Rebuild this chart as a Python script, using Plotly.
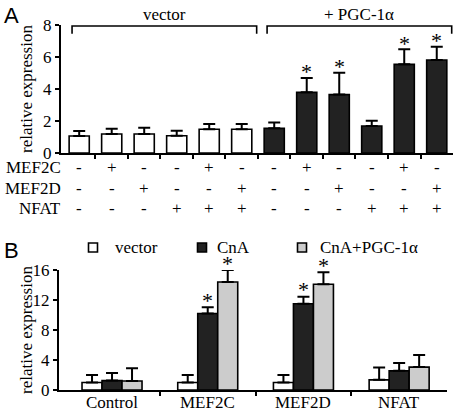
import plotly.graph_objects as go

# ---------------- Panel A data ----------------
a_vector = [1.06, 1.19, 1.19, 1.08, 1.48, 1.48]
a_vector_err = [0.31, 0.33, 0.39, 0.31, 0.33, 0.33]
a_pgc = [1.54, 3.79, 3.65, 1.69, 5.54, 5.81]
a_pgc_err = [0.36, 0.90, 1.37, 0.33, 0.94, 0.83]
a_pgc_sig = [False, True, True, False, True, True]
row_labels = ["MEF2C", "MEF2D", "NFAT"]
mef2c = ["-", "+", "-", "-", "+", "-", "-", "+", "-", "-", "+", "-"]
mef2d = ["-", "-", "+", "-", "-", "+", "-", "-", "+", "-", "-", "+"]
nfat = ["-", "-", "-", "+", "+", "+", "-", "-", "-", "+", "+", "+"]
a_groups = ["vector", "+ PGC-1α"]
a_yticks = [0, 2, 4, 6, 8]

# ---------------- Panel B data ----------------
b_categories = ["Control", "MEF2C", "MEF2D", "NFAT"]
b_series = ["vector", "CnA", "CnA+PGC-1α"]
b_vector = [1.0, 1.0, 1.0, 1.35]
b_vector_err = [1.0, 1.0, 1.0, 1.65]
b_cna = [1.25, 10.2, 11.5, 2.55]
b_cna_err = [1.0, 0.85, 0.95, 1.05]
b_pgc = [1.2, 14.4, 14.1, 3.05]
b_pgc_err = [1.7, 1.6, 1.6, 1.6]
b_cna_sig = [False, True, True, False]
b_pgc_sig = [False, True, True, False]
b_yticks = [0, 4, 8, 12, 16]

W, H = 454, 411
SERIF = "Liberation Serif, Times New Roman, serif"
SANS = "Liberation Sans, Arial, sans-serif"
BLACK = "#222222"
GRAY = "#cccccc"
FS = 17


def px(x):
    return x / W


def py(y):
    return 1 - y / H


fig = go.Figure()
ann = []
shapes = []

# ---------- Panel A bars ----------
xa_vec = list(range(len(a_vector)))
xa_pgc = list(range(len(a_vector), len(a_vector) + len(a_pgc)))


def err(arr):
    return dict(type="data", symmetric=False, array=arr, arrayminus=[0] * len(arr),
                color="black", thickness=2, width=6)


def star(x, y, xref, yref, shift):
    return dict(text="*", x=x, y=y, xref=xref, yref=yref, xanchor="center",
                yanchor="middle", yshift=shift, showarrow=False,
                font=dict(family=SERIF, size=22, color="black"))


fig.add_trace(go.Bar(x=xa_vec, y=a_vector, width=0.62, error_y=err(a_vector_err),
                     marker=dict(color="white", line=dict(color="black", width=1.6)),
                     xaxis="x", yaxis="y", showlegend=False))
fig.add_trace(go.Bar(x=xa_pgc, y=a_pgc, width=0.62, error_y=err(a_pgc_err),
                     marker=dict(color=BLACK, line=dict(color="black", width=1.6)),
                     xaxis="x", yaxis="y", showlegend=False))
for x, v, e, s in zip(xa_pgc, a_pgc, a_pgc_err, a_pgc_sig):
    if s:
        ann.append(star(x, v + e, "x", "y", 6))

# ---------- Panel B bars ----------
b_vals = [b_vector, b_cna, b_pgc]
b_errs = [b_vector_err, b_cna_err, b_pgc_err]
b_cols = ["white", BLACK, GRAY]
for name, vals, errs, col in zip(b_series, b_vals, b_errs, b_cols):
    fig.add_trace(go.Bar(x=list(range(len(b_categories))), y=vals, name=name,
                         error_y=err(errs),
                         marker=dict(color=col, line=dict(color="black", width=1.6)),
                         xaxis="x2", yaxis="y2", showlegend=False))

# asterisks for panel B (offset to the bar position within group)
bw = (1 - 0.373) / 3
for k, (vals, errs, sig) in enumerate([(b_cna, b_cna_err, b_cna_sig), (b_pgc, b_pgc_err, b_pgc_sig)]):
    for i, (v, e, s) in enumerate(zip(vals, errs, sig)):
        if s:
            ann.append(star(i + k * bw, v + e, "x2", "y2", 7))

# Panel A row labels and +/- signs
row_y = [168, 188, 208]
for lab, signs, yy in zip(row_labels, [mef2c, mef2d, nfat], row_y):
    ann.append(dict(text=lab, x=px(63), y=py(yy), xref="paper", yref="paper",
                    xanchor="right", yanchor="middle", showarrow=False,
                    font=dict(family=SERIF, size=FS, color="black")))
    for i, s in enumerate(signs):
        ann.append(dict(text=s, x=i, y=py(yy), xref="x", yref="paper",
                        xanchor="center", yanchor="middle", showarrow=False,
                        font=dict(family=SERIF, size=FS, color="black")))

# Brackets for groups
groups_idx = [xa_vec, xa_pgc]
for lab, idx in zip(a_groups, groups_idx):
    x0 = idx[0] - 0.22
    x1 = idx[-1] + 0.46
    shapes.append(dict(type="path", xref="x", yref="y",
                       path=f"M {x0},7.45 L {x0},7.94 L {x1},7.94 L {x1},7.45",
                       line=dict(color="black", width=1.6)))
    ann.append(dict(text=lab, x=(x0 + x1) / 2, y=py(15), xref="x", yref="paper",
                    xanchor="center", yanchor="middle", showarrow=False,
                    font=dict(family=SERIF, size=FS, color="black")))

# Panel letters
ann.append(dict(text="A", x=px(2), y=py(16), xref="paper", yref="paper", xanchor="left",
                yanchor="middle", showarrow=False, font=dict(family=SANS, size=22, color="black")))
ann.append(dict(text="B", x=px(2), y=py(250), xref="paper", yref="paper", xanchor="left",
                yanchor="middle", showarrow=False, font=dict(family=SANS, size=22, color="black")))

# y-axis titles
for yy in [89, 330]:
    ann.append(dict(text="relative expression", x=px(26), y=py(yy), xref="paper", yref="paper",
                    xanchor="center", yanchor="middle", textangle=-90, showarrow=False,
                    font=dict(family=SERIF, size=FS, color="black")))

# Legend for panel B
leg_sq = [93, 202, 302]
leg_tx = [113, 215, 318]
for name, col, sxp, txp in zip(b_series, b_cols, leg_sq, leg_tx):
    shapes.append(dict(type="rect", xref="paper", yref="paper",
                       x0=px(sxp - 4.5), x1=px(sxp + 4.5), y0=py(252), y1=py(243),
                       fillcolor=col, line=dict(color="black", width=1.6)))
    ann.append(dict(text=name, x=px(txp), y=py(247), xref="paper", yref="paper",
                    xanchor="left", yanchor="middle", showarrow=False,
                    font=dict(family=SERIF, size=FS, color="black")))

# Category labels for panel B
for i, c in enumerate(b_categories):
    ann.append(dict(text=c, x=i, y=py(402), xref="x2", yref="paper",
                    xanchor="center", yanchor="middle", showarrow=False,
                    font=dict(family=SERIF, size=FS, color="black")))

axis_common = dict(showline=True, linecolor="black", linewidth=2, showgrid=False,
                   zeroline=False, ticks="outside", tickcolor="black", tickwidth=1.5,
                   ticklen=4, automargin=False,
                   tickfont=dict(family=SERIF, size=FS, color="black"))

fig.update_layout(
    template="none",
    width=W, height=H, autosize=False,
    margin=dict(l=0, r=0, t=0, b=0, pad=0),
    paper_bgcolor="white", plot_bgcolor="white",
    barmode="group", bargap=0.373, bargroupgap=0,
    showlegend=False,
    xaxis=dict(domain=[px(61), px(453)], range=[-0.56, 11.5],
               tickvals=[i + 0.5 for i in range(11)], ticktext=[""] * 11,
               anchor="y", **axis_common),
    yaxis=dict(domain=[py(153), py(25)], range=[0, 8], tickvals=a_yticks,
               anchor="x", **axis_common),
    xaxis2=dict(domain=[px(59), px(447)], range=[-0.554, 3.5],
                tickvals=[i + 0.5 for i in range(len(b_categories) - 1)],
                ticktext=[""] * (len(b_categories) - 1),
                anchor="y2", **axis_common),
    yaxis2=dict(domain=[py(390), py(270)], range=[0, 16], tickvals=b_yticks,
                anchor="x2", **axis_common),
    annotations=ann, shapes=shapes,
)

fig.write_html("out.html", config={"displayModeBar": False},
               post_script="document.body.style.margin='0';")
